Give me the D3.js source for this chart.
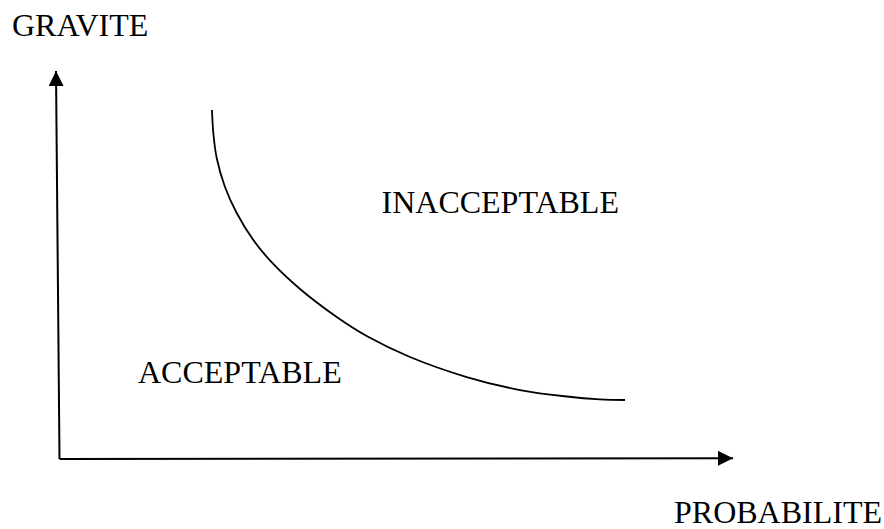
<!DOCTYPE html>
<html>
<head>
<meta charset="utf-8">
<script src="https://cdn.jsdelivr.net/npm/d3@7"></script>
<style>
  html, body { margin: 0; padding: 0; background: #fff; }
  svg { display: block; }
  .label { font-family: "Liberation Serif", "Times New Roman", serif; font-size: 32px; fill: #000; }
</style>
</head>
<body>
<svg id="chart" width="884" height="529"></svg>
<script>
// Frontier between acceptable and unacceptable risk (0-100 units)
const curveProb = [22.64, 22.84, 23.34, 24.57, 26.31, 28.78, 31.74, 35.71, 41.16, 45.61, 52.04, 60.46, 68.37, 75.31, 80.25, 83.96];
const curveGrav = [89.95, 84.02, 77.58, 70.10, 63.40, 56.44, 50.26, 43.81, 36.60, 31.70, 26.29, 21.13, 17.78, 16.11, 15.39, 15.21];

const axisTitles = ["GRAVITE", "PROBABILITE"];
const zoneLabels = ["INACCEPTABLE", "ACCEPTABLE"];

const ORIGIN_X = 59.5;
const ORIGIN_Y = 459;
const X_END = 733;
const Y_END = 71;
const Y_AXIS_LEAN = 3.5;   // the vertical axis leans a little to the left
const ARROW_LEN = 15;
const ARROW_HALF = 7.5;

const svg = d3.select("#chart");

const x = d3.scaleLinear().domain([0, 100]).range([ORIGIN_X, X_END]);
const y = d3.scaleLinear().domain([0, 100]).range([ORIGIN_Y, Y_END]);

// Arrow head marker, tip at line end
svg.append("defs").append("marker")
  .attr("id", "arrow")
  .attr("markerUnits", "userSpaceOnUse")
  .attr("viewBox", `0 ${-ARROW_HALF} ${ARROW_LEN} ${ARROW_HALF * 2}`)
  .attr("refX", ARROW_LEN)
  .attr("refY", 0)
  .attr("markerWidth", ARROW_LEN)
  .attr("markerHeight", ARROW_HALF * 2)
  .attr("orient", "auto")
  .append("path")
  .attr("d", `M0,${-ARROW_HALF}L${ARROW_LEN},0L0,${ARROW_HALF}Z`)
  .attr("fill", "#000");

// Axes
svg.append("line")
  .attr("x1", x(0)).attr("y1", y(0))
  .attr("x2", x(100)).attr("y2", y(0) - 0.7)
  .attr("stroke", "#000").attr("stroke-width", 2)
  .attr("marker-end", "url(#arrow)");

svg.append("line")
  .attr("x1", x(0)).attr("y1", y(0))
  .attr("x2", x(0) - Y_AXIS_LEAN).attr("y2", y(100))
  .attr("stroke", "#000").attr("stroke-width", 2)
  .attr("marker-end", "url(#arrow)");

// Frontier curve
const pts = curveProb.map((p, i) => [p, curveGrav[i]]);
const line = d3.line()
  .x((d) => x(d[0]))
  .y((d) => y(d[1]))
  .curve(d3.curveCatmullRom.alpha(0.5));

svg.append("path")
  .attr("d", line(pts))
  .attr("fill", "none")
  .attr("stroke", "#000")
  .attr("stroke-width", 1.8);

// Text
svg.append("text").attr("class", "label")
  .attr("x", 12).attr("y", 36)
  .text(axisTitles[0]);

svg.append("text").attr("class", "label")
  .attr("x", 882).attr("y", 523)
  .attr("text-anchor", "end")
  .text(axisTitles[1]);

svg.append("text").attr("class", "label")
  .attr("x", 381.5).attr("y", 213)
  .text(zoneLabels[0]);

svg.append("text").attr("class", "label")
  .attr("x", 138).attr("y", 383)
  .text(zoneLabels[1]);
</script>
</body>
</html>
